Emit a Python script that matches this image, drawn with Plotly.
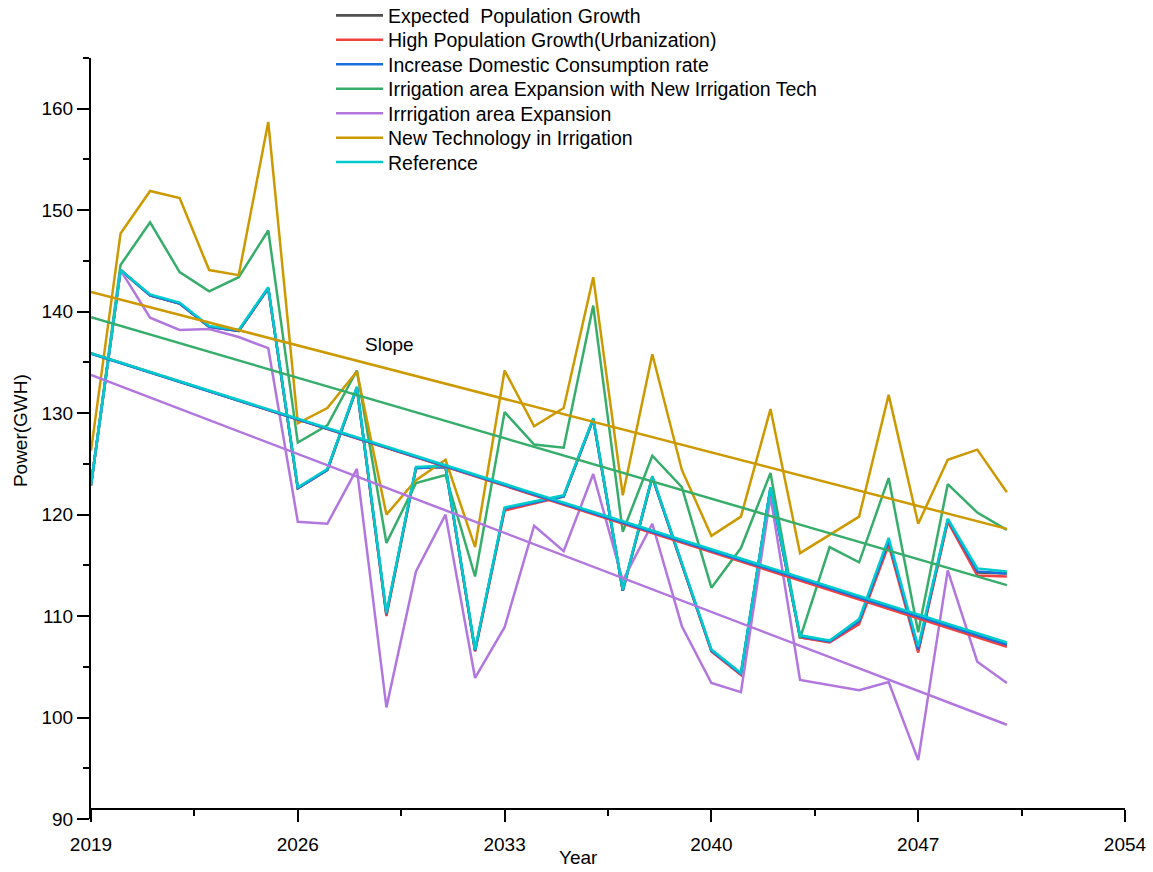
import numpy as np
import plotly.graph_objects as go

years = list(range(2019, 2051))

expected_growth = [122.9, 144.1, 141.6, 140.8, 138.5, 138.1, 142.3, 122.6, 124.4, 132.5, 110.1, 124.6, 124.7, 106.6, 120.5, 121.2, 121.8, 129.4, 112.5, 123.7, 115.1, 106.6, 104.3, 122.6, 107.9, 107.5, 109.4, 117.3, 106.6, 119.4, 114.3, 114.2]
high_growth = [122.9, 144.1, 141.6, 140.8, 138.5, 138.1, 142.3, 122.6, 124.4, 132.5, 110.0, 124.6, 124.7, 106.5, 120.4, 121.1, 121.8, 129.4, 112.5, 123.7, 115.1, 106.5, 104.2, 122.6, 107.9, 107.4, 109.2, 117.0, 106.4, 119.3, 114.0, 113.9]
domestic_rate = [122.9, 144.1, 141.6, 140.8, 138.5, 138.1, 142.3, 122.6, 124.4, 132.5, 110.2, 124.6, 124.7, 106.6, 120.6, 121.2, 121.8, 129.4, 112.5, 123.7, 115.1, 106.6, 104.3, 122.6, 108.0, 107.5, 109.5, 117.4, 106.7, 119.5, 114.4, 114.2]
irr_newtech = [122.9, 144.6, 148.8, 143.9, 142.0, 143.4, 148.0, 127.1, 128.8, 134.2, 117.2, 123.1, 123.9, 113.9, 130.1, 126.9, 126.6, 140.6, 118.3, 125.8, 122.7, 112.8, 116.7, 124.1, 107.8, 116.8, 115.3, 123.6, 108.4, 123.0, 120.2, 118.5]
irr_expansion = [122.9, 144.1, 139.4, 138.2, 138.3, 137.5, 136.4, 119.3, 119.1, 124.5, 101.0, 114.4, 120.0, 103.9, 108.9, 118.9, 116.4, 124.0, 113.5, 119.1, 109.0, 103.4, 102.5, 121.8, 103.7, 103.2, 102.7, 103.5, 95.8, 114.5, 105.5, 103.4]
new_tech = [126.3, 147.7, 151.9, 151.2, 144.1, 143.6, 158.7, 129.0, 130.5, 134.1, 120.0, 123.4, 125.4, 116.8, 134.2, 128.7, 130.5, 143.4, 121.9, 135.8, 124.4, 117.9, 119.8, 130.4, 116.2, 118.0, 119.8, 131.8, 119.1, 125.4, 126.4, 122.2]
reference = [122.9, 144.1, 141.7, 140.9, 138.6, 138.2, 142.4, 122.7, 124.5, 132.6, 110.3, 124.7, 124.8, 106.7, 120.7, 121.3, 121.9, 129.5, 112.6, 123.8, 115.2, 106.7, 104.4, 122.7, 108.1, 107.6, 109.7, 117.7, 107.0, 119.6, 114.7, 114.4]

series_names = [
    "Expected  Population Growth",
    "High Population Growth(Urbanization)",
    "Increase Domestic Consumption rate",
    "Irrigation area Expansion with New Irrigation Tech",
    "Irrrigation area Expansion",
    "New Technology in Irrigation",
    "Reference",
]
series_values = [expected_growth, high_growth, domestic_rate, irr_newtech,
                 irr_expansion, new_tech, reference]
colors = ["#515151", "#F14040", "#1A6FDF", "#37AD6B", "#B177DE", "#CC9900", "#00CBCC"]

x_ticks = [2019, 2026, 2033, 2040, 2047, 2054]

FONT = "Liberation Sans, Arial, sans-serif"
W, H = 1153, 872

fig = go.Figure()
x_arr = np.array(years, dtype=float)
legend_ids = ["legend"] + ["legend%d" % (i + 2) for i in range(len(series_names) - 1)]
for name, vals, col, lid in zip(series_names, series_values, colors, legend_ids):
    fig.add_trace(go.Scatter(x=years, y=vals, mode="lines", name=name, legend=lid,
                             line=dict(color=col, width=2.5)))
for name, vals, col in zip(series_names, series_values, colors):
    k, b = np.polyfit(x_arr, np.array(vals, dtype=float), 1)
    xf = [years[0], years[-1]]
    yf = [k * xv + b for xv in xf]
    fig.add_trace(go.Scatter(x=xf, y=yf, mode="lines", showlegend=False,
                             line=dict(color=col, width=2.5), hoverinfo="skip"))

fig.add_annotation(x=2029.1, y=136.8, text="Slope", showarrow=False,
                   font=dict(size=19, color="black", family=FONT))
fig.add_annotation(xref="paper", yref="paper", x=0.471, y=-0.051, text="Year",
                   showarrow=False, yanchor="middle",
                   font=dict(size=19, color="black", family=FONT))
fig.add_annotation(xref="paper", yref="paper", x=-0.0687, y=0.511, text="Power(GWH)",
                   showarrow=False, textangle=-90, xanchor="center", yanchor="middle",
                   font=dict(size=19, color="black", family=FONT))

legend_layout = {}
for i, lid in enumerate(legend_ids):
    cy = 15.7 + 24.45 * i
    legend_layout[lid] = dict(
        xref="container", yref="container",
        x=331 / W, y=1 - cy / H, xanchor="left", yanchor="middle",
        bgcolor="rgba(0,0,0,0)", borderwidth=0, itemwidth=47,
        font=dict(size=19.5, family=FONT, color="black"))

fig.update_layout(
    width=W, height=H, autosize=False,
    margin=dict(l=91, r=28, t=58, b=53, autoexpand=False),
    plot_bgcolor="white", paper_bgcolor="white",
    font=dict(family=FONT, size=19, color="black"),
    showlegend=True,
    xaxis=dict(range=[2019, 2054], tickvals=x_ticks, ticktext=[str(v) for v in x_ticks],
               showgrid=False, zeroline=False, showline=True, linecolor="black", linewidth=2,
               ticks="outside", ticklen=12, tickwidth=2, tickcolor="black",
               anchor="free", position=0.0131, ticklabelstandoff=6,
               minor=dict(tickvals=[2022.5, 2029.5, 2036.5, 2043.5, 2050.5],
                          ticks="outside", ticklen=6, tickwidth=2, tickcolor="black"),
               tickfont=dict(size=19, family=FONT)),
    yaxis=dict(range=[90, 165], tick0=90, dtick=10,
               showgrid=False, zeroline=False, showline=True, linecolor="black", linewidth=2,
               ticks="outside", ticklen=12, tickwidth=2, tickcolor="black",
               minor=dict(dtick=5, tick0=90, ticks="outside", ticklen=6, tickwidth=2,
                          tickcolor="black"),
               tickfont=dict(size=19, family=FONT)),
    **legend_layout,
)

fig.write_html("out.html")
